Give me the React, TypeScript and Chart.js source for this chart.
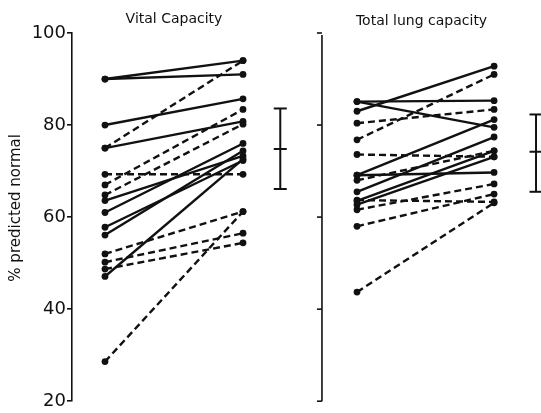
import React, { useEffect, useRef } from "react";
import { Chart, registerables } from "chart.js";

Chart.register(...registerables);

// Vital capacity (% predicted normal): before / after, line group (S = solid, D = dashed)
const VC_PRE = [90, 90, 80, 75, 75, 69.3, 67, 64.8, 63.6, 61, 57.8, 56.1, 52, 50.2, 48.7, 47.1, 28.6];
const VC_POST = [94, 91, 85.7, 94, 80.8, 69.3, 83.4, 80.2, 73.3, 76, 72.3, 74.4, 61.2, 56.5, 54.4, 72.6, 61.2];
const VC_GROUP = ["S", "S", "S", "D", "S", "D", "D", "D", "S", "S", "S", "S", "D", "D", "D", "S", "D"];
const VC_MEAN_SD = [66.1, 74.8, 83.6];

// Total lung capacity (% predicted normal)
const TLC_PRE = [85.1, 85.1, 83, 80.4, 76.8, 73.6, 69.1, 69.1, 68, 65.5, 63.5, 62.7, 61.6, 58, 63.7, 43.7];
const TLC_POST = [85.3, 79.5, 92.8, 83.4, 91, 73.1, 69.7, 81.2, 74.4, 77.4, 74.4, 73.1, 67.2, 65, 63.3, 63.1];
const TLC_GROUP = ["S", "S", "S", "D", "D", "D", "S", "S", "D", "S", "S", "S", "D", "D", "D", "D"];
const TLC_MEAN_SD = [65.5, 74.2, 82.3];

const Y_TICKS = [20, 40, 60, 80, 100];
const TITLES = ["Vital Capacity", "Total lung capacity"];
const Y_LABEL = "% predicted normal";

// category positions on the x axis
const X_VC_PRE = 1;
const X_VC_POST = 2;
const X_VC_BAR = 2.27;
const X_TLC_AXIS = 2.572;
const X_TLC_PRE = 2.826;
const X_TLC_POST = 3.819;
const X_TLC_BAR = 4.123;

const FONT = "'DejaVu Sans', sans-serif";

function pairDatasets(pre: number[], post: number[], group: string[], x0: number, x1: number) {
  return pre.map((v, i) => ({
    data: [
      { x: x0, y: v },
      { x: x1, y: post[i] },
    ],
    borderColor: "#111",
    backgroundColor: "#111",
    borderWidth: 2.4,
    borderDash: group[i] === "D" ? [7, 4] : [],
    pointRadius: 3.4,
    pointHoverRadius: 3.4,
    pointBorderWidth: 0,
    clip: false as any,
  }));
}

function barDataset(vals: number[], x: number) {
  return {
    data: vals.map((v) => ({ x, y: v })),
    borderColor: "#111",
    backgroundColor: "#111",
    borderWidth: 2,
    pointStyle: "line" as const,
    pointRadius: 6.5,
    pointBorderWidth: 2,
    pointBorderColor: "#111",
    clip: false as any,
  };
}

const extras = {
  id: "extras",
  afterDraw(chart: any) {
    const { ctx, scales } = chart;
    const xs = scales.x;
    const ys = scales.y;
    ctx.save();
    ctx.strokeStyle = "#111";
    ctx.lineWidth = 1.6;
    // right panel axis
    const ax = xs.getPixelForValue(X_TLC_AXIS);
    ctx.beginPath();
    ctx.moveTo(ax, ys.getPixelForValue(100) + 2);
    ctx.lineTo(ax, ys.getPixelForValue(20));
    ctx.stroke();
    Y_TICKS.forEach((t) => {
      const py = ys.getPixelForValue(t);
      ctx.beginPath();
      ctx.moveTo(ax - 5, py);
      ctx.lineTo(ax, py);
      ctx.stroke();
    });
    // panel titles
    ctx.fillStyle = "#111";
    ctx.font = `14px ${FONT}`;
    ctx.textAlign = "center";
    ctx.textBaseline = "middle";
    ctx.fillText(TITLES[0], (xs.getPixelForValue(X_VC_PRE) + xs.getPixelForValue(X_VC_POST)) / 2, 19);
    ctx.fillText(TITLES[1], (xs.getPixelForValue(X_TLC_PRE) + xs.getPixelForValue(X_TLC_POST)) / 2 - 4, 21);
    // y label
    ctx.translate(16, ys.getPixelForValue(62));
    ctx.rotate(-Math.PI / 2);
    ctx.font = `15px ${FONT}`;
    ctx.fillText(Y_LABEL, 0, 0);
    ctx.restore();
  },
};

export default function App() {
  const ref = useRef<HTMLCanvasElement>(null);
  useEffect(() => {
    if (!ref.current) return;
    const chart = new Chart(ref.current, {
      type: "line",
      data: {
        datasets: [
          ...pairDatasets(VC_PRE, VC_POST, VC_GROUP, X_VC_PRE, X_VC_POST),
          ...pairDatasets(TLC_PRE, TLC_POST, TLC_GROUP, X_TLC_PRE, X_TLC_POST),
          barDataset(VC_MEAN_SD, X_VC_BAR),
          barDataset(TLC_MEAN_SD, X_TLC_BAR),
        ] as any,
      },
      options: {
        animation: false,
        responsive: false,
        layout: { autoPadding: false, padding: { top: 33, bottom: 5, left: 0, right: 0 } },
        plugins: { legend: { display: false }, tooltip: { enabled: false } },
        scales: {
          x: { type: "linear", min: 0.761, max: 4.159, display: false },
          y: {
            min: 20,
            max: 100,
            afterFit: (s: any) => {
              s.width = 72;
            },
            afterBuildTicks: (s: any) => {
              s.ticks = Y_TICKS.map((v) => ({ value: v }));
            },
            border: { display: true, color: "#111", width: 1.6 },
            grid: { drawOnChartArea: false, tickLength: 5, tickColor: "#111", lineWidth: 1.6 },
            ticks: { color: "#111", font: { family: FONT, size: 18 }, padding: 1 },
          },
        },
      },
      plugins: [extras],
    });
    return () => chart.destroy();
  }, []);
  return (
    <div style={{ position: "fixed", left: 0, top: 0, width: 541, height: 413, background: "#fff" }}>
      <canvas ref={ref} width={541} height={413} />
    </div>
  );
}
